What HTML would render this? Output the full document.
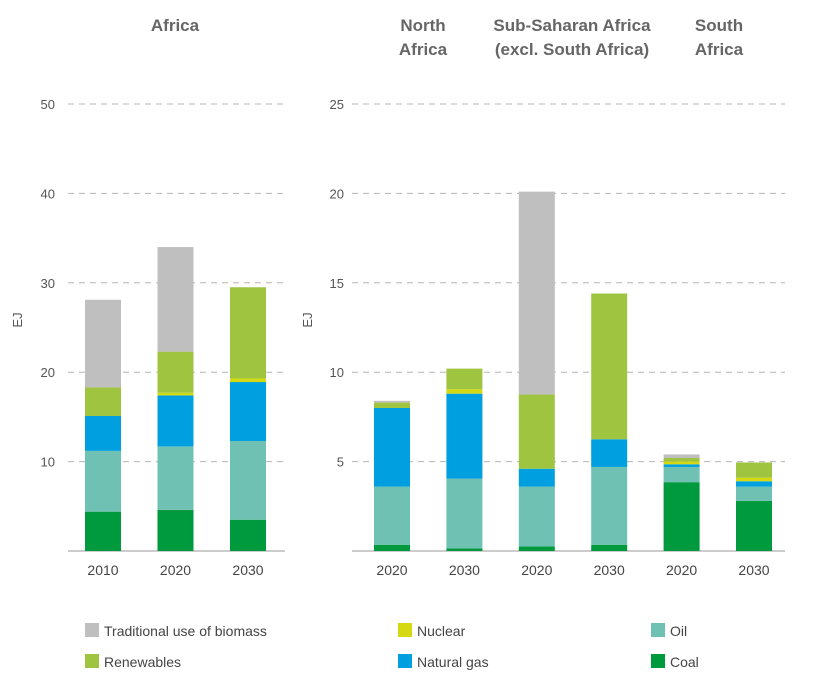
<!DOCTYPE html>
<html><head><meta charset="utf-8"><style>
body{margin:0;background:#fff;font-family:"Liberation Sans",sans-serif;}
svg text{font-family:"Liberation Sans",sans-serif;}
</style></head><body>
<svg id="chart" width="817" height="682" xmlns="http://www.w3.org/2000/svg">
<g fill="#666" font-weight="bold" font-size="17" text-anchor="middle">
<text x="175" y="31">Africa</text>
<text x="423" y="31">North</text>
<text x="423" y="55">Africa</text>
<text x="572" y="31">Sub-Saharan Africa</text>
<text x="572" y="55">(excl. South Africa)</text>
<text x="719" y="31">South</text>
<text x="719" y="55">Africa</text>
</g>
<text transform="translate(22,320) rotate(-90)" font-size="13" fill="#555" text-anchor="middle">EJ</text>
<text transform="translate(312,320) rotate(-90)" font-size="13" fill="#555" text-anchor="middle">EJ</text>
<g id="grid"></g><g id="bars"></g><g id="labels"></g>
<g font-size="14" fill="#444">
<rect x="85" y="623" width="14" height="14" fill="#bfbfbf"/><text x="104" y="636">Traditional use of biomass</text>
<rect x="85" y="654" width="14" height="14" fill="#9fc43f"/><text x="104" y="667">Renewables</text>
<rect x="398" y="623" width="14" height="14" fill="#d4d914"/><text x="417" y="636">Nuclear</text>
<rect x="398" y="654" width="14" height="14" fill="#00a0e0"/><text x="417" y="667">Natural gas</text>
<rect x="651" y="623" width="14" height="14" fill="#6fc1b3"/><text x="670" y="636">Oil</text>
<rect x="651" y="654" width="14" height="14" fill="#009a3e"/><text x="670" y="667">Coal</text>
</g>
</svg>
<script>
const seriesNames=["Coal","Oil","Natural gas","Nuclear","Renewables","Traditional use of biomass"];
const seriesColors=["#009a3e","#6fc1b3","#00a0e0","#d4d914","#9fc43f","#bfbfbf"];
const leftCategories=["2010","2020","2030"];
const leftTicks=[0,10,20,30,40,50];
const leftCoal=[4.4,4.6,3.5];
const leftOil=[6.8,7.1,8.8];
const leftGas=[3.9,5.7,6.6];
const leftNuclear=[0,0.3,0.4];
const leftRenew=[3.2,4.6,10.2];
const leftBiomass=[9.8,11.7,0];
const rightCategories=["2020","2030","2020","2030","2020","2030"];
const rightTicks=[0,5,10,15,20,25];
const rightCoal=[0.35,0.15,0.25,0.35,3.85,2.8];
const rightOil=[3.25,3.9,3.35,4.35,0.85,0.8];
const rightGas=[4.4,4.75,1.0,1.55,0.15,0.3];
const rightNuclear=[0,0.25,0,0,0.15,0.2];
const rightRenew=[0.3,1.15,4.15,8.15,0.2,0.85];
const rightBiomass=[0.1,0,11.35,0,0.2,0];
const NS="http://www.w3.org/2000/svg";
const plotBase=551, plotTop=104;
function mk(tag,attrs,parent){const e=document.createElementNS(NS,tag);for(const k in attrs)e.setAttribute(k,attrs[k]);parent.appendChild(e);return e;}
function panel(o){
  const y=v=>plotBase-(v/o.max)*(plotBase-plotTop);
  const x=i=>o.x0+i*o.step;
  const grid=document.getElementById('grid'),bars=document.getElementById('bars'),lab=document.getElementById('labels');
  o.ticks.forEach(t=>{
    if(t>0){const l=mk('line',{x1:o.gx0,x2:o.gx1,y1:y(t),y2:y(t),stroke:'#b5b5b5','stroke-dasharray':'6,5'},grid);
      
      }
    const tx=mk('text',{x:o.tickX,y:y(t)+5,'font-size':13,fill:'#555','text-anchor':'end'},lab);
    tx.textContent=t>0?t:'';
    
    
  });
  const ax=mk('line',{x1:o.gx0,x2:o.gx1,y1:plotBase,y2:plotBase,stroke:'#bbb','stroke-width':1.5},grid);
  
  
  o.cats.forEach((c,i)=>{
    let acc=0;
    o.series.forEach((s,k)=>{
      const v=s[i]; if(v<=0)return;
      const r=mk('rect',{x:x(i),width:36,y:y(acc+v),height:y(acc)-y(acc+v),fill:seriesColors[k]},bars);
      
      
      acc+=v;
    });
    const t=mk('text',{x:x(i)+18,y:575,'font-size':14,fill:'#444','text-anchor':'middle'},lab);
    t.textContent=c;
    
    
  });
}
panel({max:50,ticks:leftTicks,cats:leftCategories,series:[leftCoal,leftOil,leftGas,leftNuclear,leftRenew,leftBiomass],x0:85,step:72.5,gx0:68,gx1:285,tickX:55});
panel({max:25,ticks:rightTicks,cats:rightCategories,series:[rightCoal,rightOil,rightGas,rightNuclear,rightRenew,rightBiomass],x0:374,step:72.4,gx0:352,gx1:785,tickX:344});
</script>
</body></html>
